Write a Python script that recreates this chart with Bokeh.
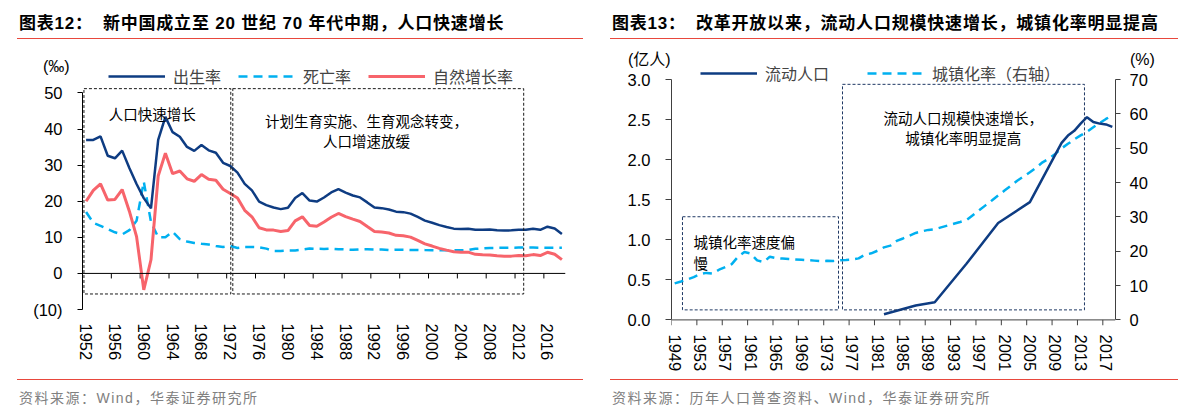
import math
from bokeh.plotting import figure
from bokeh.models import (Range1d, LinearAxis, FixedTicker, Span, Legend, LegendItem,
                          BoxAnnotation, Label, Div, ColumnDataSource, NumeralTickFormatter)
from bokeh.layouts import row, column
from bokeh.embed import file_html
from bokeh.resources import INLINE

# ---------------- data: left chart (‰) ----------------
years_l = list(range(1952, 2019))
birth_rate = [37.00, 37.00, 37.97, 32.60, 31.90, 34.03, 29.22, 24.78, 20.86, 18.02,
              37.01, 43.37, 39.14, 37.88, 35.05, 33.96, 35.59, 34.11, 33.43, 30.65,
              29.77, 27.93, 24.82, 23.01, 19.91, 18.93, 18.25, 17.82, 18.21, 20.91,
              22.28, 20.19, 19.90, 21.04, 22.43, 23.33, 22.37, 21.58, 21.06, 19.68,
              18.24, 18.09, 17.70, 17.12, 16.98, 16.57, 15.64, 14.64, 14.03, 13.38,
              12.86, 12.41, 12.29, 12.40, 12.09, 12.10, 12.14, 11.95, 11.90, 11.93,
              12.10, 12.08, 12.37, 12.07, 12.95, 12.43, 10.94]
death_rate = [17.00, 14.00, 13.18, 12.28, 11.40, 10.80, 11.98, 14.59, 25.43, 14.24,
              10.02, 10.04, 11.50, 9.50, 8.83, 8.43, 8.21, 8.03, 7.60, 7.32,
              7.61, 7.04, 7.34, 7.32, 7.25, 6.87, 6.25, 6.21, 6.34, 6.36,
              6.60, 6.90, 6.82, 6.78, 6.86, 6.72, 6.64, 6.54, 6.67, 6.70,
              6.64, 6.64, 6.49, 6.57, 6.56, 6.51, 6.50, 6.46, 6.45, 6.43,
              6.41, 6.40, 6.42, 6.51, 6.81, 6.93, 7.06, 7.08, 7.11, 7.14,
              7.15, 7.16, 7.16, 7.11, 7.09, 7.11, 7.13]
natural_rate = [20.00, 23.00, 24.79, 20.32, 20.50, 23.23, 17.24, 10.19, -4.57, 3.78,
                26.99, 33.33, 27.64, 28.38, 26.22, 25.53, 27.38, 26.08, 25.83, 23.33,
                22.16, 20.89, 17.48, 15.69, 12.66, 12.06, 12.00, 11.61, 11.87, 14.55,
                15.68, 13.29, 13.08, 14.26, 15.57, 16.61, 15.73, 15.04, 14.39, 12.98,
                11.60, 11.45, 11.21, 10.55, 10.42, 10.06, 9.14, 8.18, 7.58, 6.95,
                6.45, 6.01, 5.87, 5.89, 5.28, 5.17, 5.08, 4.87, 4.79, 4.79,
                4.95, 4.92, 5.21, 4.96, 5.86, 5.32, 3.81]
x_label_years_l = list(range(1952, 2017, 4))
y_ticks_l = [-10, 0, 10, 20, 30, 40, 50]
y_tick_text_l = ["(10)", "0", "10", "20", "30", "40", "50"]
legend_l = ["出生率", "死亡率", "自然增长率"]
unit_l = "(‰)"

# ---------------- data: right chart ----------------
years_r = list(range(1949, 2019))
urban_rate = [10.64, 11.18, 11.78, 12.46, 13.31, 13.69, 13.48, 14.62, 15.39, 16.25,
              18.41, 19.75, 19.29, 17.33, 16.84, 18.37, 17.98, 17.86, 17.74, 17.62,
              17.50, 17.38, 17.26, 17.13, 17.20, 17.16, 17.34, 17.44, 17.55, 17.92,
              18.96, 19.39, 20.16, 21.13, 21.62, 23.01, 23.71, 24.52, 25.32, 25.81,
              26.21, 26.41, 26.94, 27.46, 27.99, 28.51, 29.04, 30.48, 31.91, 33.35,
              34.78, 36.22, 37.66, 39.09, 40.53, 41.76, 42.99, 44.34, 45.89, 46.99,
              48.34, 49.95, 51.27, 52.57, 53.73, 54.77, 56.10, 57.35, 58.52, 59.58]
float_years = [1982, 1987, 1990, 1995, 2000, 2005, 2010, 2011, 2012, 2013, 2014, 2015, 2016, 2017, 2018]
float_pop = [0.07, 0.18, 0.22, 0.70, 1.21, 1.47, 2.21, 2.30, 2.36, 2.45, 2.53, 2.47, 2.45, 2.44, 2.41]
x_label_years_r = list(range(1949, 2018, 4))
y_ticks_r = [0.0, 0.5, 1.0, 1.5, 2.0, 2.5, 3.0]
y2_ticks_r = [0, 10, 20, 30, 40, 50, 60, 70]
legend_r = ["流动人口", "城镇化率（右轴）"]
unit_r_left = "(亿人)"
unit_r_right = "(%)"

# ---------------- style ----------------
LAT = "Liberation Sans"
CJK = "Noto Sans CJK SC"
NAVY = "#0e3c82"
LBLUE = "#00b0f0"
CORAL = "#f7646b"
RED = "#e8483d"
TICK_FS = "16.5px"


def style_axis(ax, color, tick_out=5, standoff=15):
    ax.axis_line_color = color
    ax.axis_line_width = 1
    ax.major_tick_line_color = color
    ax.major_tick_out = tick_out
    ax.major_tick_in = 0
    ax.minor_tick_line_color = None
    ax.major_label_text_font = LAT
    ax.major_label_text_font_size = TICK_FS
    ax.major_label_text_color = "#000000"
    ax.major_label_standoff = standoff


def label_axis(ticks, standoff):
    ax = LinearAxis(ticker=FixedTicker(ticks=ticks))
    ax.axis_line_color = None
    ax.major_tick_line_color = None
    ax.minor_tick_line_color = None
    ax.major_tick_out = 0
    ax.major_tick_in = 0
    ax.major_label_orientation = "vertical"
    ax.major_label_standoff = standoff
    ax.major_label_text_font = LAT
    ax.major_label_text_font_size = TICK_FS
    ax.major_label_text_color = "#000000"
    return ax


def txt(x, y, s, align="left", size="14.5px"):
    return Label(x=x, y=y, text=s, text_font=CJK, text_font_size=size, text_align=align,
                 text_baseline="middle", text_color="#000000")


# ================= LEFT FIGURE =================
pl = figure(width=595, height=338, output_backend="svg", toolbar_location=None,
            x_range=Range1d(1951.5, 2018.5), y_range=Range1d(-10, 59),
            x_axis_type=None, y_axis_type=None,
            min_border_left=74, min_border_right=38, min_border_top=20, min_border_bottom=69)
pl.outline_line_color = None
pl.background_fill_color = None
pl.border_fill_color = None

yl = LinearAxis(ticker=FixedTicker(ticks=y_ticks_l), bounds=(-10, 50),
                major_label_overrides={t: s for t, s in zip(y_ticks_l, y_tick_text_l)})
style_axis(yl, "#000000", 5, 15)
pl.add_layout(yl, "left")
pl.add_layout(label_axis(x_label_years_l, 14), "below")

pl.add_layout(Span(location=0, dimension="width", line_color="#000000", line_width=1))
bnd_l = [t - 0.5 for t in x_label_years_l]
pl.segment(x0=bnd_l, y0=[0] * len(bnd_l), x1=bnd_l, y1=[-1.4] * len(bnd_l),
           line_color="#000000", line_width=1)

src_l = ColumnDataSource(dict(year=years_l, birth=birth_rate, death=death_rate, natural=natural_rate))
r_death = pl.line("year", "death", source=src_l, line_color=LBLUE, line_width=2.5, line_dash="9 6")
r_nat = pl.line("year", "natural", source=src_l, line_color=CORAL, line_width=3)
r_birth = pl.line("year", "birth", source=src_l, line_color=NAVY, line_width=2.5)

for l, r, b in [(1951.7, 1972.07, -5.7), (1972.35, 2012.7, -5.7)]:
    pl.add_layout(BoxAnnotation(left=l, right=r, top=51.2, bottom=b, fill_color=None, fill_alpha=0,
                                line_color="#1a1a1a", line_alpha=1, line_width=1, line_dash="3 2"))

pl.add_layout(txt(1955.15, 44.35, "人口快速增长"))
pl.add_layout(txt(1990.9, 42.33, "计划生育实施、生育观念转变，", align="center"))
pl.add_layout(txt(1990.9, 36.8, "人口增速放缓", align="center"))

leg_l = Legend(items=[LegendItem(label=legend_l[0], renderers=[r_birth]),
                      LegendItem(label=legend_l[1], renderers=[r_death]),
                      LegendItem(label=legend_l[2], renderers=[r_nat])],
               orientation="horizontal", location=(26, 221), padding=0, margin=0,
               spacing=17, glyph_width=57, glyph_height=20, label_standoff=8,
               label_height=20, label_text_font=CJK, label_text_font_size="16px",
               background_fill_alpha=0, border_line_alpha=0)
pl.add_layout(leg_l)

# ================= RIGHT FIGURE =================
pr = figure(width=578, height=338, output_backend="svg", toolbar_location=None,
            x_range=Range1d(1948.5, 2018.5), y_range=Range1d(-0.07, 3.25),
            x_axis_type=None, y_axis_type=None,
            min_border_left=68, min_border_right=66, min_border_top=19, min_border_bottom=53)
pr.outline_line_color = None
pr.background_fill_color = None
pr.border_fill_color = None
pr.extra_y_ranges = {"pct": Range1d(-0.07 * 70 / 3, 3.25 * 70 / 3)}

yr = LinearAxis(ticker=FixedTicker(ticks=y_ticks_r), bounds=(0, 3),
                formatter=NumeralTickFormatter(format="0.0"))
style_axis(yr, "#404040", 6, 15)
pr.add_layout(yr, "left")
yr2 = LinearAxis(ticker=FixedTicker(ticks=y2_ticks_r), bounds=(0, 70), y_range_name="pct")
style_axis(yr2, "#404040", 5, 9)
pr.add_layout(yr2, "right")
pr.add_layout(label_axis(x_label_years_r, 9), "below")

pr.add_layout(Span(location=0, dimension="width", line_color="#404040", line_width=1))
bnd_r = [t - 0.5 for t in x_label_years_r]
pr.segment(x0=bnd_r, y0=[0] * len(bnd_r), x1=bnd_r, y1=[-0.07] * len(bnd_r),
           line_color="#404040", line_width=1)

src_u = ColumnDataSource(dict(year=years_r, urban=urban_rate))
src_f = ColumnDataSource(dict(year=float_years, pop=float_pop))
r_urban = pr.line("year", "urban", source=src_u, y_range_name="pct", line_color=LBLUE,
                  line_width=2.5, line_dash="9 6")
r_float = pr.line("year", "pop", source=src_f, line_color=NAVY, line_width=2.5)

for l, r, t in [(1950.23, 1974.83, 1.2875), (1975.46, 2013.61, 2.94)]:
    pr.add_layout(BoxAnnotation(left=l, right=r, top=t, bottom=0.125, fill_color=None, fill_alpha=0,
                                line_color="#1f3864", line_alpha=1, line_width=1, line_dash="3 2"))

pr.add_layout(txt(1951.97, 0.975, "城镇化率速度偏"))
pr.add_layout(txt(1951.97, 0.7125, "慢"))
pr.add_layout(txt(1994.5, 2.525, "流动人口规模快速增长，", align="center"))
pr.add_layout(txt(1994.5, 2.275, "城镇化率明显提高", align="center"))

leg_r = Legend(items=[LegendItem(label=legend_r[0], renderers=[r_float]),
                      LegendItem(label=legend_r[1], renderers=[r_urban])],
               orientation="horizontal", location=(29, 239.6), padding=0, margin=0,
               spacing=38, glyph_width=57, glyph_height=20, label_standoff=8,
               label_height=20, label_text_font=CJK, label_text_font_size="16px",
               background_fill_alpha=0, border_line_alpha=0)
pr.add_layout(leg_r)


# ================= TITLES / FOOTERS =================
FAM = "'Liberation Sans','Noto Sans CJK SC',sans-serif"


def unit_span(s, left, top):
    return (f'<span style="position:absolute;left:{left}px;top:{top}px;font-family:{FAM};'
            f'font-size:16px;line-height:20px;font-weight:normal;letter-spacing:0;color:#000;'
            f'white-space:nowrap;">{s}</span>')


def title_div(label, text, ml, w, units):
    html = (f'<div style="position:relative;width:{ml + w}px;height:32px;overflow:visible;">'
            f'<div style="margin-left:{ml}px;width:{w}px;height:31px;box-sizing:border-box;'
            f'border-bottom:1.5px solid {RED};padding-top:6px;font-family:{FAM};font-weight:bold;'
            f'font-size:17px;line-height:20px;letter-spacing:0.8px;color:#000;white-space:nowrap;">'
            f'<span style="padding-left:2px">{label}</span>'
            f'<span style="margin-left:10px">{text}</span></div>'
            + "".join(unit_span(s, x, y) for s, x, y in units) +
            '</div>')
    return Div(text=html, width=ml + w, height=32, margin=0,
               styles={"overflow": "visible", "z-index": "5", "position": "relative"})


def foot_div(text, ml, w):
    html = (f'<div style="margin-left:{ml}px;width:{w}px;margin-top:1px;box-sizing:border-box;'
            f'border-top:1.5px solid {RED};padding-top:8px;padding-left:2px;font-family:{FAM};'
            f'font-size:14px;line-height:20px;letter-spacing:1.5px;color:#808080;white-space:nowrap;">'
            f'{text}</div>')
    return Div(text=html, width=ml + w, height=30, margin=0)


tl = title_div("图表12：", "新中国成立至 20 世纪 70 年代中期，人口快速增长", 9, 566,
               [(unit_l, 35, 49)])
tr = title_div("图表13：", "改革开放以来，流动人口规模快速增长，城镇化率明显提高", 7, 568,
               [(unit_r_left, 25, 42), (unit_r_right, 527, 42)])
fl = foot_div("资料来源：Wind，华泰证券研究所", 9, 566)
fr = foot_div("资料来源：历年人口普查资料、Wind，华泰证券研究所", 7, 568)

layout = row(column(tl, pl, fl, spacing=0), column(tr, pr, fr, spacing=0), spacing=0,
             margin=(8, 0, 0, 8))

with open("out.html", "w") as f:
    f.write(file_html(layout, INLINE))
